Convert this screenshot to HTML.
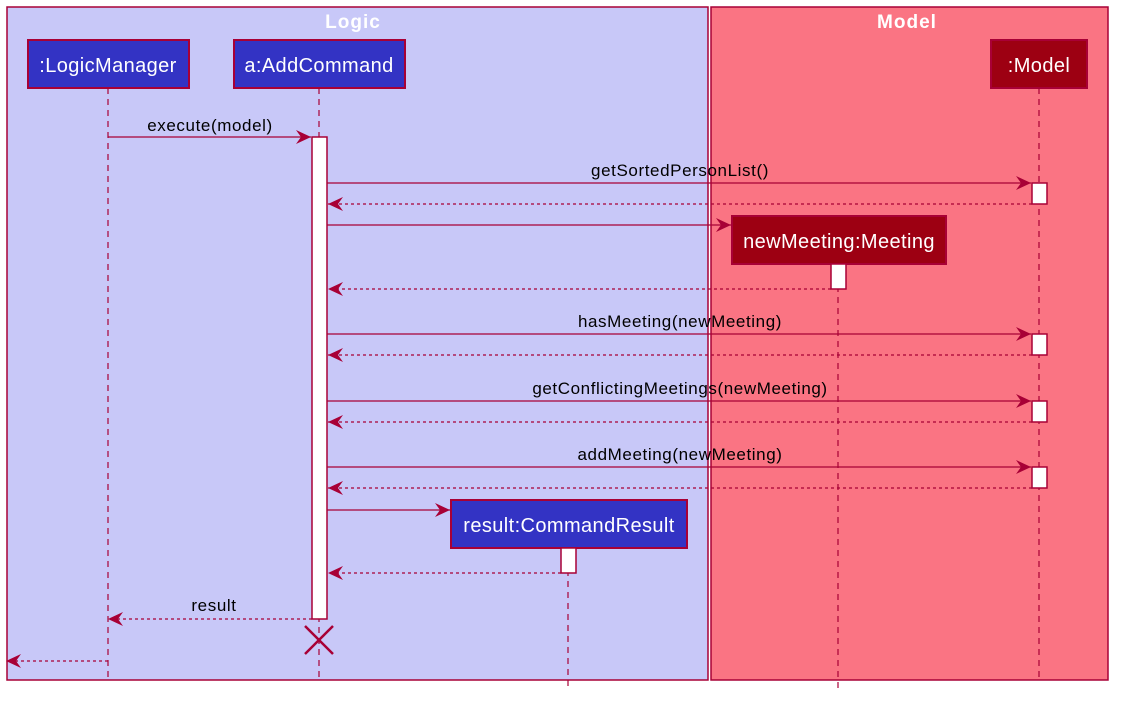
<!DOCTYPE html>
<html><head><style>body{margin:0;background:#fff}svg{display:block}text{font-family:"Liberation Sans",sans-serif}</style></head><body>
<svg width="1123" height="704" xmlns="http://www.w3.org/2000/svg">
<defs><marker id="a" markerWidth="16" markerHeight="14" refX="15" refY="7" orient="auto" markerUnits="userSpaceOnUse"><path d="M0,0 L15,7 L0,14 L5,7 Z" fill="#A80036"/></marker></defs>
<rect x="7" y="7" width="701" height="673" fill="#C8C8F8" stroke="#A80036" stroke-width="1.5"/>
<rect x="711" y="7" width="397" height="673" fill="#FA7483" stroke="#A80036" stroke-width="1.5"/>
<text x="353" y="28" fill="#fff" font-weight="bold" font-size="19" text-anchor="middle" letter-spacing="1">Logic</text>
<text x="907" y="28" fill="#fff" font-weight="bold" font-size="19" text-anchor="middle" letter-spacing="1">Model</text>
<g stroke="#A80036" stroke-width="1.2" stroke-dasharray="6,5">
<line x1="108" y1="88" x2="108" y2="682"/><line x1="319" y1="88" x2="319" y2="682"/>
<line x1="1039" y1="88" x2="1039" y2="682"/><line x1="838" y1="264" x2="838" y2="690"/>
<line x1="568" y1="548" x2="568" y2="690"/></g>
<g stroke="#A80036" stroke-width="2">
<rect x="28" y="40" width="161" height="48" fill="#3333C4"/>
<rect x="234" y="40" width="171" height="48" fill="#3333C4"/>
<rect x="991" y="40" width="96" height="48" fill="#9D0012"/>
<rect x="732" y="216" width="214" height="48" fill="#9D0012"/>
<rect x="451" y="500" width="236" height="48" fill="#3333C4"/></g>
<g fill="#fff" font-size="20" text-anchor="middle" letter-spacing="0.4">
<text x="108" y="72">:LogicManager</text><text x="319" y="72">a:AddCommand</text>
<text x="1039" y="72">:Model</text><text x="839" y="248">newMeeting:Meeting</text>
<text x="569" y="532">result:CommandResult</text></g>
<g fill="#fff" stroke="#A80036" stroke-width="1.5">
<rect x="312" y="137" width="15" height="482"/>
<rect x="831" y="264" width="15" height="25"/>
<rect x="561" y="548" width="15" height="25"/>
<rect x="1032" y="183" width="15" height="21"/><rect x="1032" y="334" width="15" height="21"/>
<rect x="1032" y="401" width="15" height="21"/><rect x="1032" y="467" width="15" height="21"/></g>
<g stroke="#A80036" stroke-width="1.3" marker-end="url(#a)">
<line x1="108" y1="137" x2="311" y2="137"/>
<line x1="327" y1="183" x2="1031" y2="183"/>
<line x1="327" y1="225" x2="731" y2="225"/>
<line x1="327" y1="334" x2="1031" y2="334"/>
<line x1="327" y1="401" x2="1031" y2="401"/>
<line x1="327" y1="467" x2="1031" y2="467"/>
<line x1="327" y1="510" x2="450" y2="510"/>
<g stroke-dasharray="3,3">
<line x1="1032" y1="204" x2="328" y2="204"/>
<line x1="831" y1="289" x2="328" y2="289"/>
<line x1="1032" y1="355" x2="328" y2="355"/>
<line x1="1032" y1="422" x2="328" y2="422"/>
<line x1="1032" y1="488" x2="328" y2="488"/>
<line x1="561" y1="573" x2="328" y2="573"/>
<line x1="312" y1="619" x2="108" y2="619"/>
<line x1="108" y1="661" x2="6" y2="661"/></g></g>
<g stroke="#A80036" stroke-width="2.5"><line x1="305" y1="626" x2="333" y2="654"/><line x1="333" y1="626" x2="305" y2="654"/></g>
<g font-size="17" fill="#000" text-anchor="middle" letter-spacing="0.6">
<text x="210" y="131">execute(model)</text>
<text x="680" y="176">getSortedPersonList()</text>
<text x="680" y="327">hasMeeting(newMeeting)</text>
<text x="680" y="394">getConflictingMeetings(newMeeting)</text>
<text x="680" y="460">addMeeting(newMeeting)</text>
<text x="214" y="611">result</text></g>
</svg>
</body></html>
